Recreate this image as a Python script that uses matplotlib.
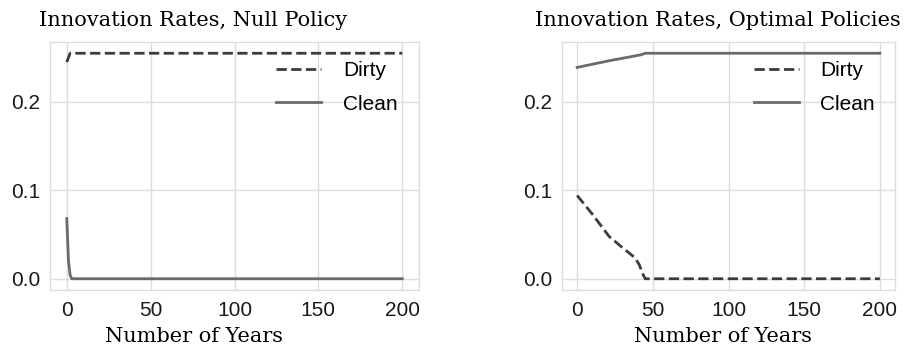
import matplotlib.pyplot as plt

# innovation rates over time, dirty vs clean sector
years_null_dirty = [0, 2, 200]
null_dirty = [0.2445, 0.2545, 0.2545]
years_null_clean = [0, 1, 2, 3, 200]
null_clean = [0.068, 0.021, 0.004, 0.0, 0.0]

years_opt_dirty = [0, 10, 21, 30, 38, 41, 44, 45, 200]
opt_dirty = [0.094, 0.073, 0.048, 0.035, 0.024, 0.016, 0.003, 0.0, 0.0]
years_opt_clean = [0, 21, 42, 45, 200]
opt_clean = [0.2385, 0.246, 0.2527, 0.2545, 0.2545]

xticks = [0, 50, 100, 150, 200]
yticks = [0.0, 0.1, 0.2]

W, H = 922, 352
fig = plt.figure(figsize=(W / 100, H / 100), dpi=100)
fs = 15

def make_axes(rect, xd, yd, xc, yc):
    ax = fig.add_axes(rect)
    ax.plot(xd, yd, ls='--', color='#3c3c3c', lw=2.0, label='Dirty')
    ax.plot(xc, yc, ls='-', color='#6a6a6a', lw=2.0, label='Clean')
    ax.set_xticks(xticks)
    ax.set_yticks(yticks)
    ax.set_yticklabels(['0.0', '0.1', '0.2'])
    ax.grid(True, color='#dddddd', lw=1.0)
    ax.set_axisbelow(True)
    for s in ax.spines.values():
        s.set_color('#dddddd')
        s.set_linewidth(1.0)
    ax.tick_params(length=0, labelsize=fs, labelcolor='#1a1a1a',
                   labelfontfamily='Liberation Sans')
    ax.tick_params(axis='x', pad=8)
    ax.tick_params(axis='y', pad=7)
    ax.set_ylim(-0.0127, 0.2672)
    ax.set_xlim(-10, 210)
    ax.legend(loc='upper right', frameon=False,
              handlelength=2.15, handletextpad=1.05, labelspacing=0.68,
              borderaxespad=0.0, bbox_to_anchor=(0.965, 0.955),
              prop={'family': 'Liberation Sans', 'size': fs})
    return ax

bottom = (H - 290) / H
height = 248 / H
make_axes([50 / W, bottom, 369 / W, height],
          years_null_dirty, null_dirty, years_null_clean, null_clean)
make_axes([562 / W, bottom, 333 / W, height],
          years_opt_dirty, opt_dirty, years_opt_clean, opt_clean)

serif = 'DejaVu Serif'
fig.text(193 / W, 1 - 21 / H, 'Innovation Rates, Null Policy',
         ha='center', va='center', fontsize=fs, family=serif)
fig.text(718 / W, 1 - 21 / H, 'Innovation Rates, Optimal Policies',
         ha='center', va='center', fontsize=fs, family=serif)
fig.text(194 / W, 1 - 336 / H, 'Number of Years',
         ha='center', va='center', fontsize=fs, family=serif)
fig.text(723 / W, 1 - 336 / H, 'Number of Years',
         ha='center', va='center', fontsize=fs, family=serif)

fig.savefig('out.png', dpi=100)
